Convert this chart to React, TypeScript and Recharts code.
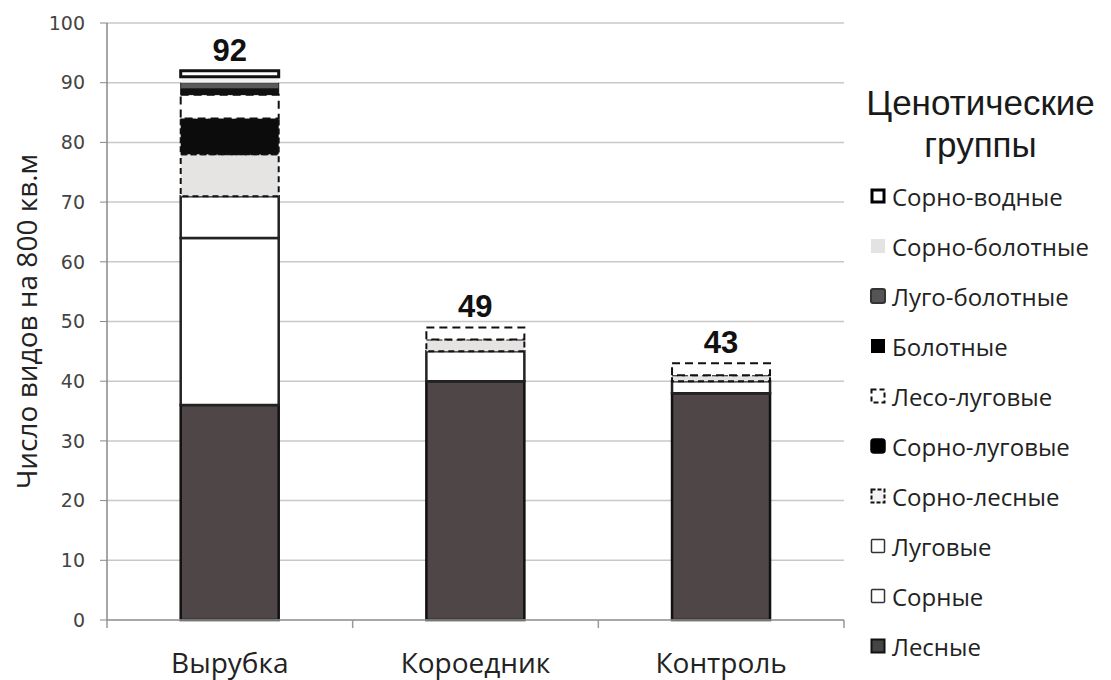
import React from "react";
import {
  BarChart,
  Bar,
  XAxis,
  YAxis,
  CartesianGrid,
  Legend,
  LabelList,
} from "recharts";

const categories = ["Вырубка", "Короедник", "Контроль"];
const lesnye = [36, 40, 38];
const sornye = [28, 5, 2];
const lugovye = [7, 0, 0];
const sornoLesnye = [7, 2, 1];
const sornoLugovye = [6, 0, 0];
const lesoLugovye = [4, 2, 2];
const bolotnye = [1, 0, 0];
const lugoBolotnye = [1, 0, 0];
const sornoBolotnye = [1, 0, 0];
const sornoVodnye = [1, 0, 0];
const totals = [92, 49, 43];
const yTicks = [0, 10, 20, 30, 40, 50, 60, 70, 80, 90, 100];

// bottom-to-top stacking order
const series = [
  { key: "lesnye", name: "Лесные", values: lesnye, fill: "#4f4747", stroke: "#111", dash: undefined, sw: 2.5 },
  { key: "sornye", name: "Сорные", values: sornye, fill: "#ffffff", stroke: "#222", dash: undefined, sw: 2.5 },
  { key: "lugovye", name: "Луговые", values: lugovye, fill: "#ffffff", stroke: "#222", dash: undefined, sw: 2.5 },
  { key: "sornoLesnye", name: "Сорно-лесные", values: sornoLesnye, fill: "#e6e3e3", stroke: "#111", dash: "6 4", sw: 2 },
  { key: "sornoLugovye", name: "Сорно-луговые", values: sornoLugovye, fill: "#0c0c0c", stroke: "#111", dash: "6 3", sw: 2 },
  { key: "lesoLugovye", name: "Лесо-луговые", values: lesoLugovye, fill: "#ffffff", stroke: "#111", dash: "8 5", sw: 2 },
  { key: "bolotnye", name: "Болотные", values: bolotnye, fill: "#111111", stroke: "#111", dash: undefined, sw: 1 },
  { key: "lugoBolotnye", name: "Луго-болотные", values: lugoBolotnye, fill: "#5a5a5a", stroke: "#222", dash: undefined, sw: 1 },
  { key: "sornoBolotnye", name: "Сорно-болотные", values: sornoBolotnye, fill: "#f2f2f2", stroke: "none", dash: undefined, sw: 0 },
  { key: "sornoVodnye", name: "Сорно-водные", values: sornoVodnye, fill: "#ffffff", stroke: "#111", dash: undefined, sw: 3 },
];

// the total label goes on the topmost non-empty segment of each bar
const data = categories.map((name, i) => {
  const row: Record<string, string | number> = { name };
  let top = "";
  series.forEach((s) => {
    row[s.key] = s.values[i];
    if (s.values[i] > 0) top = s.key;
  });
  row["lab_" + top] = totals[i];
  return row;
});

function XTick(props: any) {
  const { x, y, payload, index, width, visibleTicksCount } = props;
  const band = width / visibleTicksCount;
  const left = x - band / 2;
  const right = x + band / 2;
  return (
    <g>
      <line x1={left} y1={y - 8} x2={left} y2={y} stroke="#999" strokeWidth={1.5} />
      {index === visibleTicksCount - 1 && (
        <line x1={right} y1={y - 8} x2={right} y2={y} stroke="#999" strokeWidth={1.5} />
      )}
      <text
        x={x}
        y={y + 45}
        textAnchor="middle"
        fill="#222"
        fontSize={28}
        fontFamily="'Open Sans', sans-serif"
      >
        {payload.value}
      </text>
    </g>
  );
}

function YLabel(props: any) {
  const { viewBox } = props;
  const cy = viewBox ? viewBox.y + viewBox.height / 2 : 322;
  const cx = 26;
  return (
    <text
      x={cx}
      y={cy}
      transform={`rotate(-90 ${cx} ${cy})`}
      textAnchor="middle"
      dominantBaseline="central"
      fill="#222"
      fontSize={28}
      fontFamily="'Open Sans', sans-serif"
    >
      Число видов на 800 кв.м
    </text>
  );
}

function LegendIcon({ s }: { s: (typeof series)[number] }) {
  const k = s.key;
  if (k === "sornoVodnye")
    return <rect x={2} y={2} width={12} height={12} fill="#fff" stroke="#000" strokeWidth={3} />;
  if (k === "sornoBolotnye") return <rect x={1} y={1} width={14} height={14} fill="#e3e3e3" />;
  if (k === "lugoBolotnye")
    return <rect x={1} y={1} width={14} height={14} fill="#555" stroke="#333" strokeWidth={2} rx={2} />;
  if (k === "bolotnye") return <rect x={1} y={1} width={14} height={14} fill="#000" />;
  if (k === "lesoLugovye")
    return <rect x={1.5} y={1.5} width={13} height={13} fill="#fff" stroke="#111" strokeWidth={2} strokeDasharray="5 3" />;
  if (k === "sornoLugovye")
    return <rect x={1} y={1} width={14} height={14} fill="#000" stroke="#000" strokeWidth={1.5} rx={3} />;
  if (k === "sornoLesnye")
    return <rect x={1.5} y={1.5} width={13} height={13} fill="#f4f2f2" stroke="#111" strokeWidth={2} strokeDasharray="4 2" />;
  if (k === "lesnye")
    return <rect x={1.5} y={1.5} width={13} height={13} fill="#444" stroke="#111" strokeWidth={2} />;
  return <rect x={1.5} y={1.5} width={13} height={13} fill="#fff" stroke="#333" strokeWidth={1.5} rx={1} />;
}

function LegendContent(props: any) {
  const keys = new Set((props.payload || []).map((p: any) => p.dataKey));
  const items = [...series].reverse().filter((s) => keys.has(s.key));
  return (
    <div style={{ fontFamily: "'Open Sans', sans-serif", color: "#222" }}>
      <div
        style={{
          textAlign: "center",
          fontFamily: "'Liberation Sans', Arial, sans-serif",
          fontSize: 35,
          lineHeight: "42px",
          color: "#1a1a1a",
        }}
      >
        Ценотические
        <br />
        группы
      </div>
      <div style={{ marginTop: 5 }}>
        {items.map((s) => (
          <div
            key={s.key}
            style={{ display: "flex", alignItems: "center", height: 50, paddingLeft: 20 }}
          >
            <svg width={16} height={16} style={{ marginRight: 6 }}>
              <LegendIcon s={s} />
            </svg>
            <span style={{ fontSize: 24 }}>{s.name}</span>
          </div>
        ))}
      </div>
    </div>
  );
}

export default function App() {
  return (
    <div style={{ position: "absolute", left: 0, top: 0, background: "#fff" }}>
      <BarChart
        width={1111}
        height={680}
        data={data}
        margin={{ top: 23, right: 267, left: 7, bottom: 0 }}
        barCategoryGap="30%"
      >
        <CartesianGrid vertical={false} stroke="#c8c8c8" strokeWidth={1.5} />
        <XAxis
          dataKey="name"
          height={60}
          axisLine={{ stroke: "#999", strokeWidth: 1.5 }}
          tickLine={false}
          tickSize={8}
          tickMargin={0}
          tick={<XTick />}
          interval={0}
        />
        <YAxis
          width={100}
          domain={[0, 100]}
          ticks={yTicks}
          interval={0}
          axisLine={{ stroke: "#888", strokeWidth: 1.5 }}
          tickLine={{ stroke: "#888" }}
          tickSize={7}
          tickMargin={15}
          tick={{ fill: "#444", fontSize: 19, fontFamily: "'DejaVu Sans', sans-serif" }}
          label={{ content: <YLabel /> }}
        />
        <Legend
          layout="vertical"
          align="center"
          verticalAlign="middle"
          content={<LegendContent />}
          wrapperStyle={{ position: "absolute", left: 850, top: 82, width: 261 }}
        />
        {series.map((s) => (
          <Bar
            key={s.key}
            dataKey={s.key}
            name={s.name}
            stackId="a"
            fill={s.fill}
            stroke={s.stroke}
            strokeWidth={s.sw}
            strokeDasharray={s.dash}
            isAnimationActive={false}
          >
            <LabelList
              dataKey={"lab_" + s.key}
              position="top"
              offset={10}
              fill="#111"
              fontSize={31}
              fontWeight="bold"
              fontFamily="'Liberation Sans', Arial, sans-serif"
            />
          </Bar>
        ))}
      </BarChart>
    </div>
  );
}
